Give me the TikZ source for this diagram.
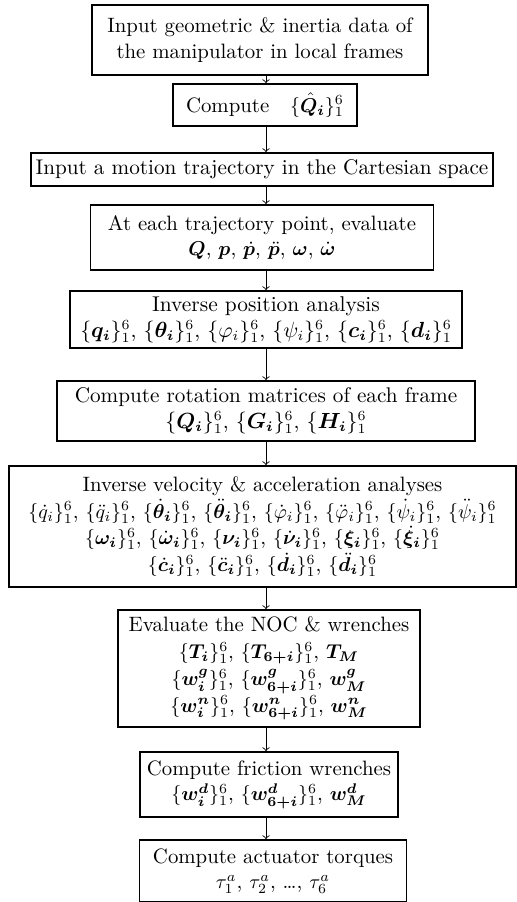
\documentclass[tikz,border=0pt]{standalone}
\usepackage{amsmath,bm}
\newcommand{\bsi}{_{\bm i}}
\begin{document}
\begin{tikzpicture}[x=0.5pt,y=-0.5pt]
\tikzset{
  box/.style={draw, line width=0.9pt, align=center, inner sep=0pt,
              font=\fontsize{10.4}{12.6}\selectfont},
  wh/.style 2 args={minimum width=#1*0.5pt, minimum height=#2*0.5pt},
  flow/.style={-to, line width=0.45pt}
}
\useasboundingbox (0,0) rectangle (517,902);
\node[box, wh={336}{70}] (b1) at (260,40)
  {Input geometric \& inertia data of\\the manipulator in local frames};
\node[box, wh={184}{42}] (b2) at (265,105)
  {Compute\quad $\{\hat{\bm Q}\bsi\}_1^6$};
\node[box, wh={462}{33}, font=\fontsize{10.6}{13}\selectfont] (b3) at (262,169.5)
  {Input a motion trajectory in the Cartesian space};
\node[box, wh={343}{65}] (b4) at (262,237.5)
  {At each trajectory point, evaluate\\$\bm Q$, $\bm p$, $\dot{\bm p}$, $\ddot{\bm p}$, $\bm\omega$, $\dot{\bm\omega}$};
\node[box, wh={392}{57}, font=\fontsize{10.7}{13}\selectfont] (b5) at (266,319.5)
  {Inverse position analysis\\$\{\bm q\bsi\}_1^6$, $\{\bm\theta\bsi\}_1^6$, $\{\varphi_i\}_1^6$, $\{\psi_i\}_1^6$, $\{\bm c\bsi\}_1^6$, $\{\bm d\bsi\}_1^6$};
\node[box, wh={418}{60}, font=\fontsize{10.6}{12.8}\selectfont] (b6) at (266,411)
  {Compute rotation matrices of each frame\\$\{\bm Q\bsi\}_1^6$, $\{\bm G\bsi\}_1^6$, $\{\bm H\bsi\}_1^6$};
\node[box, wh={507}{121}, font=\fontsize{10.4}{13.4}\selectfont] (b7) at (262.5,526.5)
  {Inverse velocity \& acceleration analyses\\
   $\{\dot q_i\}_1^6$, $\{\ddot q_i\}_1^6$, $\{\dot{\bm\theta}\bsi\}_1^6$, $\{\ddot{\bm\theta}\bsi\}_1^6$, $\{\dot\varphi_i\}_1^6$, $\{\ddot\varphi_i\}_1^6$, $\{\dot\psi_i\}_1^6$, $\{\ddot\psi_i\}_1^6$\\
   $\{\bm\omega\bsi\}_1^6$, $\{\dot{\bm\omega}\bsi\}_1^6$, $\{\bm\nu\bsi\}_1^6$, $\{\dot{\bm\nu}\bsi\}_1^6$, $\{\bm\xi\bsi\}_1^6$, $\{\dot{\bm\xi}\bsi\}_1^6$\\
   $\{\dot{\bm c}\bsi\}_1^6$, $\{\ddot{\bm c}\bsi\}_1^6$, $\{\dot{\bm d}\bsi\}_1^6$, $\{\ddot{\bm d}\bsi\}_1^6$};
\node[box, wh={302}{117}, font=\fontsize{10.4}{13.4}\selectfont] (b8) at (269,668.5)
  {Evaluate the NOC \& wrenches\\
   $\{\bm T\bsi\}_1^6$, $\{\bm T_{\bm{6+i}}\}_1^6$, $\bm T_{\bm M}$\\
   $\{\bm w^{\bm g}\bsi\}_1^6$, $\{\bm w^{\bm g}_{\bm{6+i}}\}_1^6$, $\bm w^{\bm g}_{\bm M}$\\
   $\{\bm w^{\bm n}\bsi\}_1^6$, $\{\bm w^{\bm n}_{\bm{6+i}}\}_1^6$, $\bm w^{\bm n}_{\bm M}$};
\node[box, wh={258}{65}] (b9) at (269,784.5)
  {Compute friction wrenches\\
   $\{\bm w^{\bm d}\bsi\}_1^6$, $\{\bm w^{\bm d}_{\bm{6+i}}\}_1^6$, $\bm w^{\bm d}_{\bm M}$};
\node[box, wh={267}{62}] (b10) at (273,871)
  {Compute actuator torques\\$\tau_1^a$, $\tau_2^a$, \ldots, $\tau_6^a$};
\foreach \a/\b in {b1/b2,b2/b3,b3/b4,b4/b5,b5/b6,b6/b7,b7/b8,b8/b9,b9/b10}
  \draw[flow] (266,0 |- \a.south) -- (266,0 |- \b.north);
\end{tikzpicture}
\end{document}
